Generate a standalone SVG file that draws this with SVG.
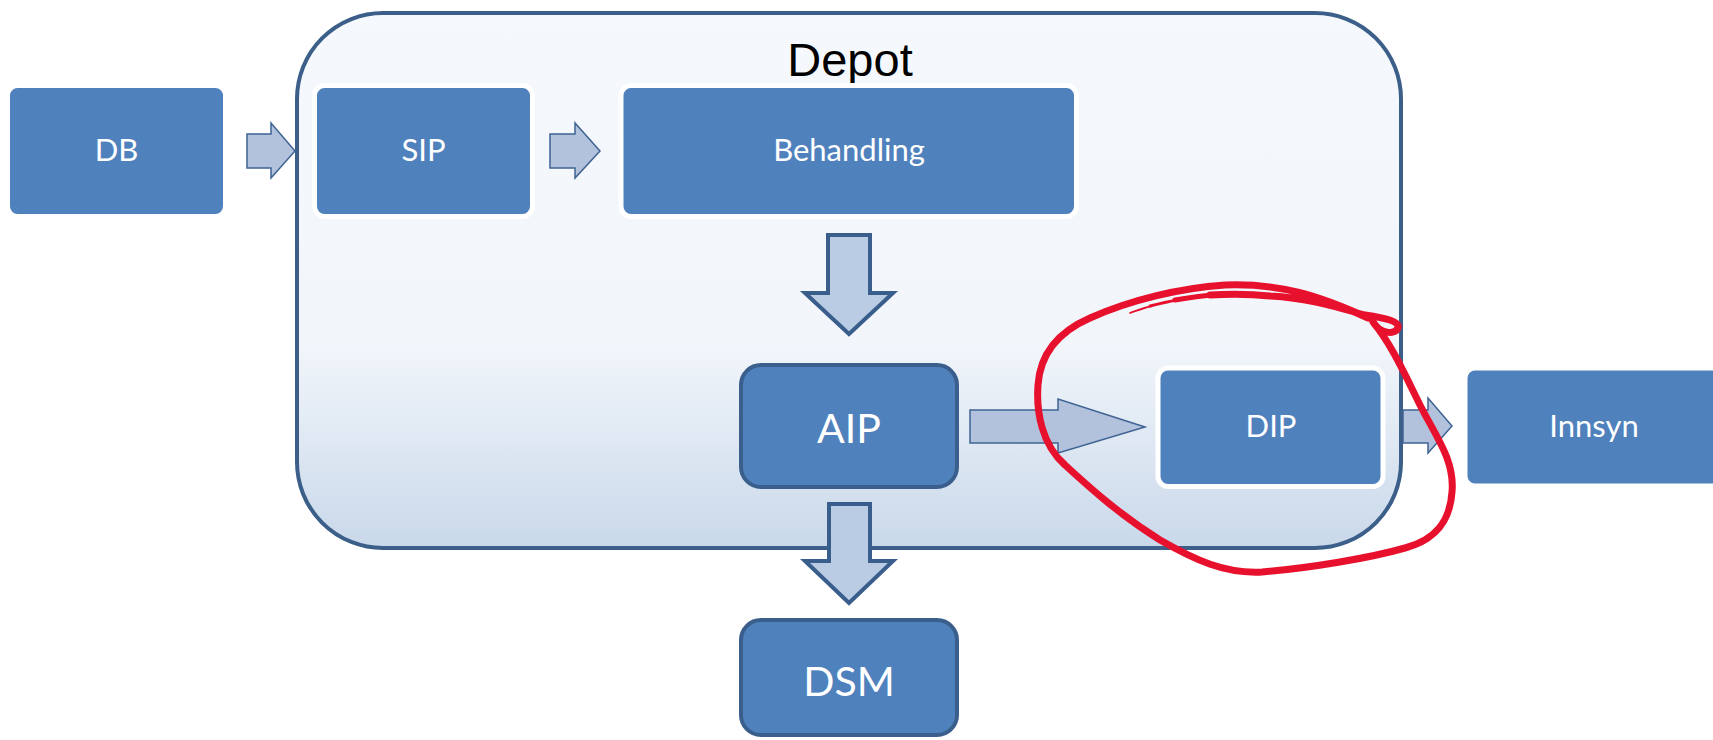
<svg xmlns="http://www.w3.org/2000/svg" width="1713" height="740" viewBox="0 0 1713 740">
<defs>
<linearGradient id="depotFill" x1="0" y1="0" x2="0" y2="1">
<stop offset="0" stop-color="#f5f8fc"/>
<stop offset="0.62" stop-color="#f2f6fb"/>
<stop offset="1" stop-color="#c9d8ea"/>
</linearGradient>
</defs>
<style>
.box{fill:#4f81bd;stroke:#ffffff;stroke-width:5}
.box2{fill:#4f81bd;stroke:#3a5f8c;stroke-width:4}
.lbl{font-family:Lato,"Open Sans",sans-serif;font-size:31px;fill:#ffffff;text-anchor:middle}
.big{font-size:41px}
.harrow{fill:#b2c1dc;stroke:#3f6392;stroke-width:1.5;stroke-linejoin:miter}
.varrow{fill:#b9cce4;stroke:#3a5e8c;stroke-width:4;stroke-linejoin:miter}
.title{font-family:"Liberation Sans",Arial,sans-serif;font-size:47px;fill:#000000;text-anchor:middle}
.mark{fill:none;stroke:#e8112d;stroke-linecap:round;stroke-linejoin:round}
</style>
<rect width="1713" height="740" fill="#ffffff"/>
<g id="depot">
<rect x="297" y="13" width="1104" height="535" rx="86" ry="86" fill="url(#depotFill)" stroke="#3c5f8a" stroke-width="4"/>
<text class="title" x="850" y="76">Depot</text>
</g>
<g id="db">
<rect class="box" x="7.5" y="85.5" width="218" height="131" rx="10"/>
<text class="lbl" x="116.5" y="161">DB</text>
</g>
<g id="sip">
<rect class="box" x="314.5" y="85.5" width="218" height="131" rx="10"/>
<text class="lbl" x="423.5" y="161">SIP</text>
</g>
<g id="behandling">
<rect class="box" x="621" y="85.5" width="455.5" height="131" rx="10"/>
<text class="lbl" x="849" y="161">Behandling</text>
</g>
<g id="aip">
<rect class="box2" x="741" y="365" width="216" height="122" rx="20"/>
<text class="lbl big" x="849" y="443">AIP</text>
</g>
<g id="dip">
<rect class="box" x="1158" y="368" width="225" height="118.5" rx="10"/>
<text class="lbl" x="1271" y="437">DIP</text>
</g>
<g id="innsyn">
<rect class="box" x="1465" y="368" width="260" height="118" rx="10"/>
<text class="lbl" x="1594" y="437">Innsyn</text>
</g>
<g id="dsm">
<rect class="box2" x="741" y="620" width="216" height="115" rx="20"/>
<text class="lbl big" x="849" y="696">DSM</text>
</g>
<g id="connectors">
<polygon class="harrow" points="247,134 271,134 271,123 295,151 271,178 271,168 247,168"/>
<polygon class="harrow" points="550,134 575,134 575,123 600,151 575,178 575,168 550,168"/>
<polygon class="varrow" points="828,235 870,235 870,293 893,293 849,334 805,293 828,293"/>
<polygon class="harrow" points="970,410 1058,410 1058,399 1145,427 1058,453 1058,443 970,443"/>
<polygon class="varrow" points="829,504 870,504 870,561 893,561 849,603 805,561 829,561"/>
<polygon class="harrow" points="1403,410 1428,410 1428,398 1452,426 1428,453 1428,443 1403,443"/>
</g>
<g id="annotation">
<path class="mark" stroke-width="7" d="M1210,295 C1230,294 1250,294 1270,296 C1310,298 1340,308 1365,315 C1385,318 1400,321 1398,328 C1395,335 1380,334 1373,322 C1392,345 1405,375 1420,405 C1435,435 1455,460 1452,492 C1450,522 1435,540 1405,548 C1370,558 1310,568 1262,572 C1225,574 1195,560 1160,540 C1120,515 1090,488 1065,465 C1042,445 1036,412 1038,385 C1040,355 1058,332 1090,318 C1130,300 1180,288 1225,285 C1280,283 1320,296 1368,318"/>
<path class="mark" stroke-width="5" d="M1175,300 C1187,298 1199,296 1212,295"/>
<path class="mark" stroke-width="3" d="M1150,306 C1158,304 1166,302 1177,300"/>
<path class="mark" stroke-width="1.8" d="M1130,313 C1136,311 1143,308 1152,306"/>
</g>
</svg>
